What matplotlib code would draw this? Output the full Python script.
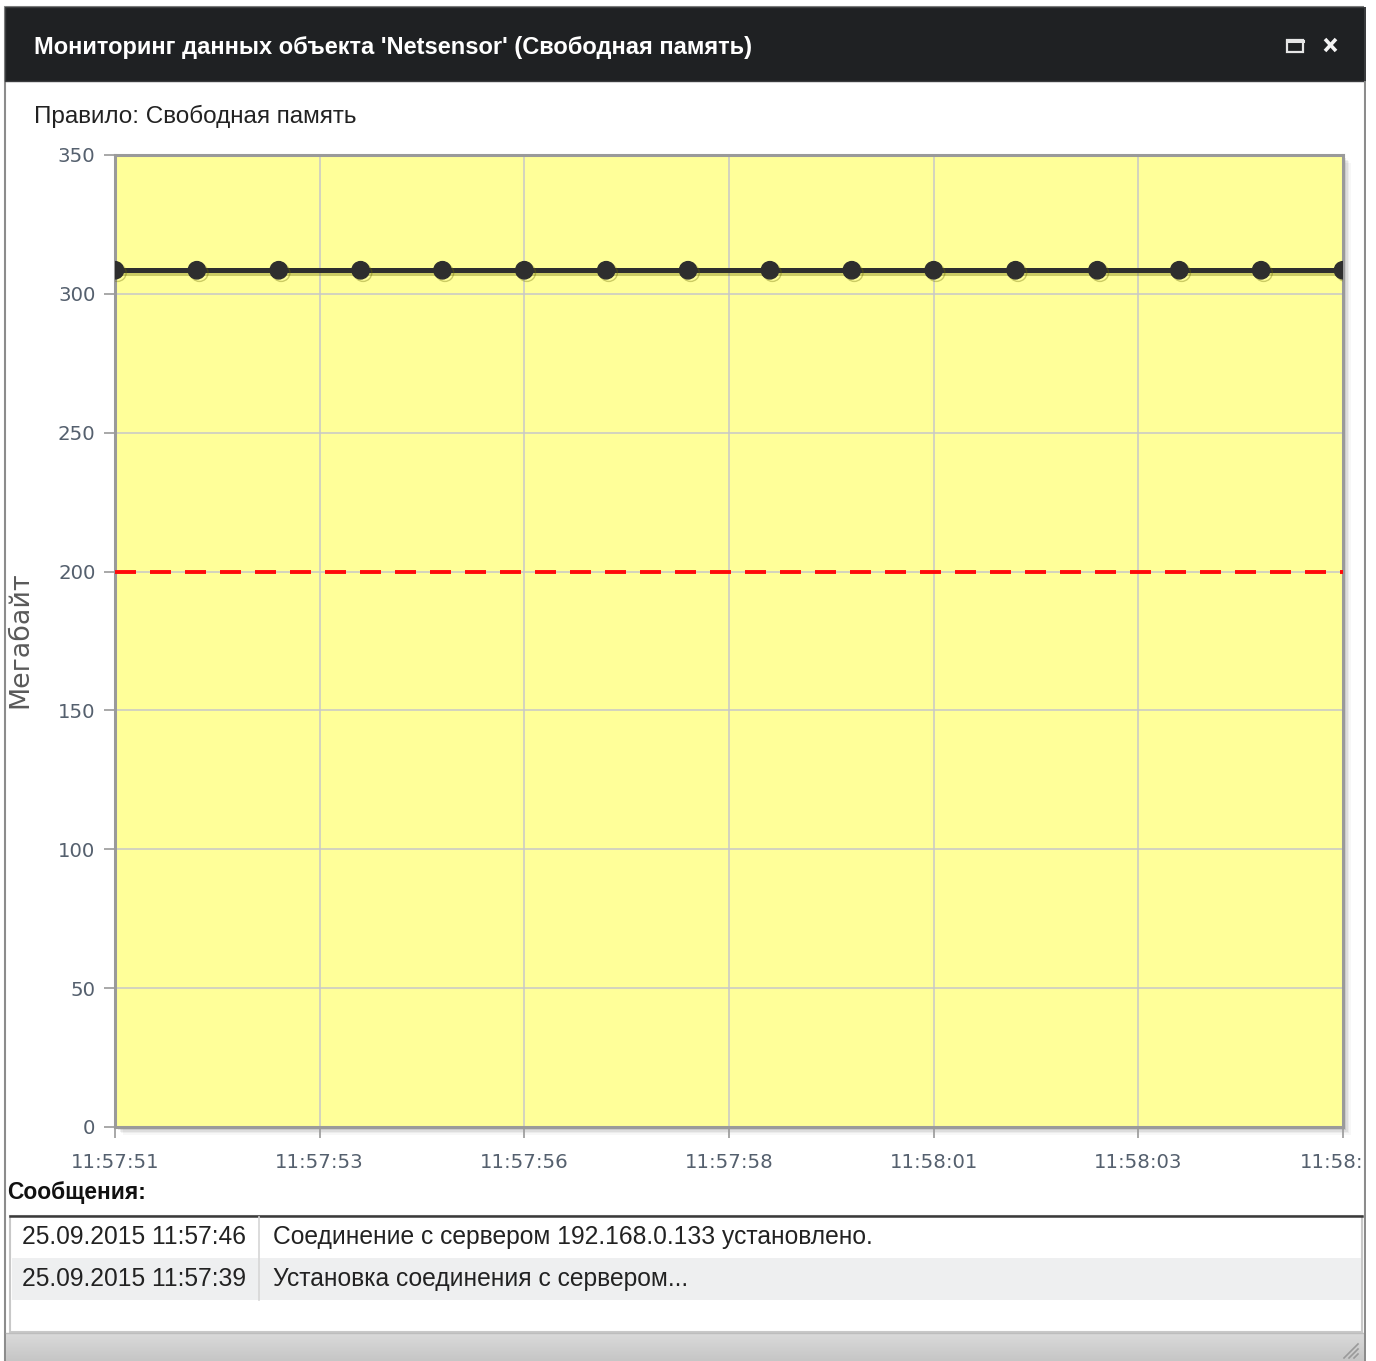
import matplotlib
matplotlib.use("Agg")
import matplotlib.pyplot as plt
from matplotlib.patches import Rectangle
from matplotlib import patheffects as pe
from matplotlib.transforms import ScaledTranslation
import numpy as np

# ---- data -------------------------------------------------------------
sample_seconds = [0, 1, 2, 3, 4, 5, 6, 7, 8, 9, 10, 11, 12, 13, 14, 15]
free_memory_mb = [308.5, 308.5, 308.5, 308.5, 308.5, 308.5, 308.5, 308.5,
                  308.5, 308.5, 308.5, 308.5, 308.5, 308.5, 308.5, 308.5]
threshold_mb = 200
x_tick_positions = [0, 2.5, 5, 7.5, 10, 12.5, 15]
x_tick_labels = ["11:57:51", "11:57:53", "11:57:56", "11:57:58",
                 "11:58:01", "11:58:03", "11:58:"]
y_ticks = [0, 50, 100, 150, 200, 250, 300, 350]

window_title = "Мониторинг данных объекта 'Netsensor' (Свободная память)"
rule_caption = "Правило: Свободная память"
y_axis_title = "Мегабайт"
messages_caption = "Сообщения:"
message_times = ["25.09.2015 11:57:46", "25.09.2015 11:57:39"]
message_texts = ["Соединение с сервером 192.168.0.133 установлено.",
                 "Установка соединения с сервером..."]

# ---- figure -----------------------------------------------------------
W, H = 1376, 1361
DPI = 100
fig = plt.figure(figsize=(W / DPI, H / DPI), dpi=DPI, facecolor="white")

UI_FONT = ["Liberation Sans", "DejaVu Sans"]


def fig_box(x0, y0, x1, y1):
    """Pixel box (top-left origin) to figure-fraction rect."""
    return [x0 / W, 1 - y1 / H, (x1 - x0) / W, (y1 - y0) / H]


# window chrome drawn in a pixel-space background axes
bg = fig.add_axes([0, 0, 1, 1], zorder=0)
bg.set_xlim(0, W)
bg.set_ylim(H, 0)
bg.axis("off")

# window body and border
bg.add_patch(Rectangle((5, 7), 1360, 1354, facecolor="white",
                       edgecolor="#8c8c8c", lw=1.5))
# title bar
bg.add_patch(Rectangle((5, 7), 1360, 74, facecolor="#1f2123",
                       edgecolor="#3a3c3e", lw=1))
bg.text(34, 47, window_title, color="white", fontsize=17,
        fontweight="bold", family=UI_FONT, va="center", ha="left")
# maximize / close glyphs
bg.add_patch(Rectangle((1287, 40), 16, 12, facecolor="none",
                       edgecolor="#e6e6e6", lw=1.6))
bg.plot([1287, 1303], [41.2, 41.2], color="#e6e6e6", lw=2.2)
bg.plot([1325, 1336], [39, 51], color="#f4f4f4", lw=2.6,
        solid_capstyle="butt")
bg.plot([1325, 1336], [51, 39], color="#f4f4f4", lw=2.6,
        solid_capstyle="butt")

# rule caption
bg.text(34, 116, rule_caption, color="#222222", fontsize=17.5,
        family=UI_FONT, va="center", ha="left")

# plot frame shadow (soft, right/bottom)
for i, a in enumerate([0.10, 0.08, 0.06, 0.045, 0.03]):
    off = 2 + i * 1.4
    bg.add_patch(Rectangle((115 + off, 155 + off), 1228, 972,
                           facecolor="#000000", alpha=a, lw=0))

# y axis title
bg.text(20, 640, y_axis_title, color="#5a5a5a", fontsize=19.4,
        family=["DejaVu Sans"], rotation=90, va="center", ha="center")

# messages block
bg.text(7, 1192, messages_caption, color="#111111", fontsize=16.4,
        fontweight="bold", family=UI_FONT, va="center", ha="left")
bg.add_patch(Rectangle((10, 1216), 1352, 116, facecolor="white",
                       edgecolor="#c8c8c8", lw=1.5))
bg.add_patch(Rectangle((12, 1258), 1349, 42, facecolor="#eeeff0", lw=0))
bg.plot([10, 1362], [1216, 1216], color="#3a3a3a", lw=1.8)
bg.plot([259, 259], [1217, 1300], color="#d6d6d6", lw=1.2)
row_centers = [1237, 1279]
for yc, t, msg in zip(row_centers, message_times, message_texts):
    bg.text(22, yc, t, color="#222222", fontsize=17.7, family=UI_FONT,
            va="center", ha="left")
    bg.text(273, yc, msg, color="#222222", fontsize=17.7, family=UI_FONT,
            va="center", ha="left")

# bottom status bar with gradient
grad = np.linspace(0, 1, 32).reshape(-1, 1)
bg.imshow(grad, extent=(6, 1364, 1361, 1333), cmap=matplotlib.colors.
          LinearSegmentedColormap.from_list("bar", ["#dadada", "#c6c6c6"]),
          aspect="auto", zorder=1)
bg.plot([6, 1364], [1333, 1333], color="#bdbdbd", lw=1)
# resize grip
for k in (4, 9, 14):
    bg.plot([1358 - k, 1358], [1358, 1358 - k], color="#9a9a9a", lw=1.2)
bg.set_xlim(0, W)
bg.set_ylim(H, 0)

# ---- main chart -------------------------------------------------------
ax = fig.add_axes(fig_box(115, 155, 1343, 1127), zorder=2)
ax.set_facecolor("#ffff99")
ax.set_xlim(0, 15)
ax.set_ylim(0, 350)

ax.grid(True, color="#c8c8c8", lw=1.1)
ax.set_axisbelow(True)

ax.axhline(threshold_mb, color="#ff0a0a", lw=2.8, dashes=(5.4, 3.6),
           zorder=3)

shadow = [pe.SimpleLineShadow(offset=(1.8, -1.8), shadow_color="#6b6b00",
                              alpha=0.35), pe.Normal()]
ax.plot(sample_seconds, free_memory_mb, color="#2e2e2e", lw=3.6,
        marker="o", markersize=12.5, markerfacecolor="#2e2e2e",
        markeredgecolor="#2e2e2e", zorder=4, path_effects=shadow)

ax.set_xticks(x_tick_positions)
ax.set_xticklabels(x_tick_labels)
ax.set_yticks(y_ticks)
ax.tick_params(axis="both", colors="#999999", length=8, width=1.2)
ax.tick_params(axis="x", labelcolor="#55606e", labelsize=14.2, pad=10.5)
ax.tick_params(axis="y", labelcolor="#55606e", labelsize=14.2, pad=6)
for lbl in ax.get_xticklabels() + ax.get_yticklabels():
    lbl.set_family("DejaVu Sans")
# the last time label sits against the window edge
last = ax.get_xticklabels()[-1]
last.set_transform(last.get_transform()
                   + ScaledTranslation(-11 / DPI, 0, fig.dpi_scale_trans))
for side in ("left", "right", "top", "bottom"):
    ax.spines[side].set_color("#9a9a9a")
    ax.spines[side].set_linewidth(2.2)

# right window edge drawn over anything running past it
edge = fig.add_axes(fig_box(1364, 0, W, H), zorder=5)
edge.set_xlim(0, 1)
edge.set_ylim(0, 1)
edge.axis("off")
edge.add_patch(Rectangle((0, 0), 1, 1, facecolor="white", lw=0,
                         transform=edge.transAxes))
edge.add_patch(Rectangle((0, 0), 0.14, 1 - 7 / H, facecolor="#8c8c8c",
                         lw=0, transform=edge.transAxes))
edge.add_patch(Rectangle((0, 1 - 81 / H), 0.14, 74 / H, facecolor="#3a3c3e",
                         lw=0, transform=edge.transAxes))

fig.savefig("out.png", dpi=DPI, facecolor="white")
